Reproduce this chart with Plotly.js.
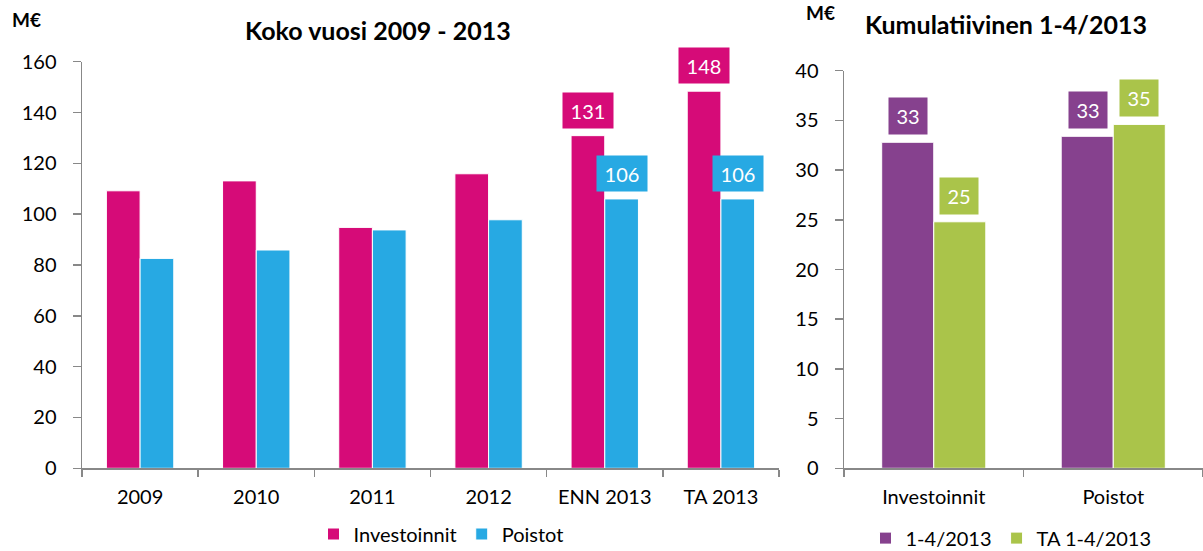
<!DOCTYPE html>
<html>
<head>
<meta charset="utf-8">
<script src="https://cdn.plot.ly/plotly-3.0.1.min.js"></script>
<style>html,body{margin:0;padding:0;background:#fff;overflow:hidden;}#chart{width:1203px;height:551px;}</style>
</head>
<body>
<div id="chart"></div>
<script>
// Left chart: Koko vuosi 2009 - 2013
const yearCategories = ["2009", "2010", "2011", "2012", "ENN 2013", "TA 2013"];
const investoinnit = [109.2, 113.1, 94.8, 115.9, 130.9, 148.4];
const poistot = [82.6, 85.9, 93.8, 97.8, 106.0, 106.0];
const labelledYears = ["ENN 2013", "TA 2013"];

// Right chart: Kumulatiivinen 1-4/2013
const cumCategories = ["Investoinnit", "Poistot"];
const cum2013 = [32.8, 33.4];
const cumTA2013 = [24.8, 34.6];

const seriesNames = ["Investoinnit", "Poistot", "1-4/2013", "TA 1-4/2013"];
const titles = ["Koko vuosi 2009 - 2013", "Kumulatiivinen 1-4/2013"];
const unitLabel = "M€";

const colMag = "#D60B78", colBlue = "#27A9E3", colPurple = "#86418E", colGreen = "#AAC44A";
const FONT = "Lato, 'Open Sans', sans-serif";
const GREY = "#888888";

const traces = [
  {type: "bar", x: yearCategories, y: investoinnit, name: seriesNames[0], marker: {color: colMag, line: {color: "#ffffff", width: 1}}, xaxis: "x", yaxis: "y", legend: "legend", hoverinfo: "skip"},
  {type: "bar", x: yearCategories, y: poistot, name: seriesNames[1], marker: {color: colBlue, line: {color: "#ffffff", width: 1}}, xaxis: "x", yaxis: "y", legend: "legend", hoverinfo: "skip"},
  {type: "bar", x: cumCategories, y: cum2013, name: seriesNames[2], marker: {color: colPurple, line: {color: "#ffffff", width: 1}}, xaxis: "x2", yaxis: "y2", legend: "legend2", hoverinfo: "skip"},
  {type: "bar", x: cumCategories, y: cumTA2013, name: seriesNames[3], marker: {color: colGreen, line: {color: "#ffffff", width: 1}}, xaxis: "x2", yaxis: "y2", legend: "legend2", hoverinfo: "skip"}
];

const annotations = [];
function addLabel(xref, yref, xcat, val, shift, color, w, h) {
  annotations.push({
    xref: xref, yref: yref, x: xcat, y: val, text: String(Math.round(val)),
    showarrow: false, xanchor: "center", yanchor: "bottom", xshift: shift, yshift: 7,
    bgcolor: color, width: w, height: h, borderpad: 0, valign: "middle",
    font: {family: FONT, size: 20, color: "#ffffff"}
  });
}
labelledYears.forEach(c => {
  const i = yearCategories.indexOf(c);
  addLabel("x", "y", c, investoinnit[i], -16.8, colMag, 50, 35);
  addLabel("x", "y", c, poistot[i], 16.8, colBlue, 50, 35);
});
cumCategories.forEach((c, i) => {
  addLabel("x2", "y2", c, cum2013[i], -25.5, colPurple, 38, 36);
  addLabel("x2", "y2", c, cumTA2013[i], 25.5, colGreen, 38, 36);
});
annotations.push({xref: "paper", yref: "paper", x: 378/1203, y: (551-30)/551, text: "<b>" + titles[0] + "</b>", showarrow: false, xanchor: "center", yanchor: "middle", font: {family: FONT, size: 25, color: "#000"}});
annotations.push({xref: "paper", yref: "paper", x: 1006/1203, y: (551-24)/551, text: "<b>" + titles[1] + "</b>", showarrow: false, xanchor: "center", yanchor: "middle", font: {family: FONT, size: 25, color: "#000"}});
annotations.push({xref: "paper", yref: "paper", x: 26/1203, y: (551-20)/551, text: "<b>" + unitLabel + "</b>", showarrow: false, xanchor: "center", yanchor: "middle", font: {family: FONT, size: 19, color: "#000"}});
annotations.push({xref: "paper", yref: "paper", x: 820/1203, y: (551-12)/551, text: "<b>" + unitLabel + "</b>", showarrow: false, xanchor: "center", yanchor: "middle", font: {family: FONT, size: 19, color: "#000"}});

const axisCommon = {
  showline: true, linecolor: GREY, linewidth: 1.5, showgrid: false, zeroline: false,
  ticks: "outside", tickcolor: GREY, tickwidth: 1.5,
  tickfont: {family: FONT, size: 20, color: "#000"}, fixedrange: true
};

const layout = {
  width: 1203, height: 551,
  margin: {l: 0, r: 0, t: 0, b: 0, autoexpand: false},
  paper_bgcolor: "#ffffff", plot_bgcolor: "#ffffff",
  barmode: "group", bargap: 0.42, bargroupgap: 0,
  font: {family: FONT, color: "#000"},
  xaxis: Object.assign({}, axisCommon, {domain: [82/1203, 779/1203], type: "category", tickson: "boundaries", ticklen: 7, ticklabelstandoff: 10, anchor: "y"}),
  yaxis: Object.assign({}, axisCommon, {domain: [(551-468.3)/551, (551-61.7)/551], range: [0, 160], dtick: 20, ticklen: 8, ticklabelstandoff: 12, anchor: "x"}),
  xaxis2: Object.assign({}, axisCommon, {domain: [844/1203, 1], type: "category", tickson: "boundaries", ticklen: 7, ticklabelstandoff: 10, anchor: "y2"}),
  yaxis2: Object.assign({}, axisCommon, {domain: [(551-468.3)/551, (551-70.7)/551], range: [0, 40], dtick: 5, ticklen: 8, ticklabelstandoff: 12, anchor: "x2"}),
  legend: {orientation: "h", x: 441/1203, xanchor: "center", y: (551-534)/551, yanchor: "middle", font: {family: FONT, size: 20, color: "#000"}, itemwidth: 30, bgcolor: "rgba(0,0,0,0)"},
  legend2: {orientation: "h", x: 1011/1203, xanchor: "center", y: -0.012, yanchor: "bottom", font: {family: FONT, size: 20, color: "#000"}, itemwidth: 30, bgcolor: "rgba(0,0,0,0)"},
  annotations: annotations,
  showlegend: true
};

Plotly.newPlot("chart", traces, layout, {staticPlot: true, displayModeBar: false});
</script>
</body>
</html>
